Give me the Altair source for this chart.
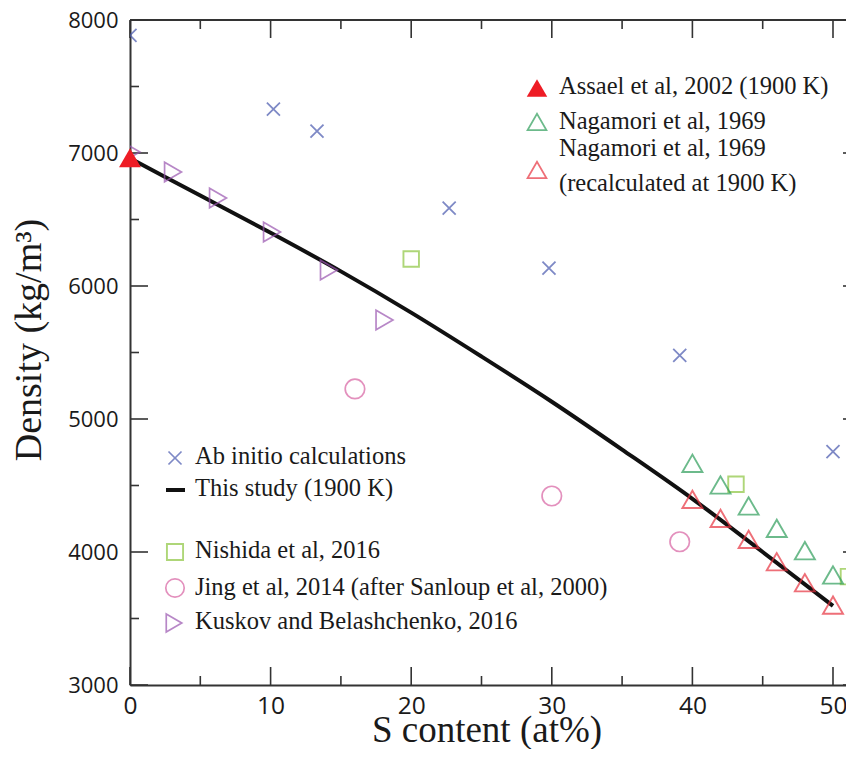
import altair as alt
import pandas as pd

# ---------------- data ----------------
ab_x = [0, 10.2, 13.3, 22.7, 29.8, 39.1, 50]
ab_y = [7885, 7330, 7165, 6585, 6135, 5478, 4755]

study_x = [0, 5, 10, 15, 20, 25, 30, 35, 40, 45, 50]
study_y = [6960, 6680, 6400, 6110, 5800, 5470, 5130, 4770, 4400, 4000, 3595]

assael_x = [0]
assael_y = [6965]

nag_x = [40, 42, 44, 46, 48, 50]
nag_y = [4667, 4504, 4346, 4178, 4010, 3827]

nagr_x = [40, 42, 44, 46, 48, 50]
nagr_y = [4396, 4253, 4095, 3927, 3769, 3601]

nish_x = [20, 43.1, 51.1]
nish_y = [6203, 4509, 3815]

jing_x = [16, 30, 39.1]
jing_y = [5226, 4421, 4077]

kus_x = [0.1, 3.06, 6.26, 10.1, 14.15, 18.1]
kus_y = [7008, 6857, 6662, 6406, 6120, 5744]

x_major = [0, 10, 20, 30, 40, 50]
x_minor = [5, 15, 25, 35, 45]
y_major = [3000, 4000, 5000, 6000, 7000, 8000]
y_minor = [3500, 4500, 5500, 6500, 7500]

# ---------------- layout / style ----------------
W, H = 716, 665          # visible plot area (the figure is cut at the right)
WFULL = 731              # where the (cut-off) right frame would be
AX = "#333333"
TXT = "#1a1a1a"
SERIF = "Liberation Serif"
SANS = "Open Sans"

xs = alt.Scale(domain=[0, 50.925], nice=False, zero=False)
ys = alt.Scale(domain=[3000, 8000], nice=False, zero=False)

ax_x = alt.Axis(values=x_major, title=None, ticks=False, tickSize=0, grid=False,
                domain=True, domainColor=AX, domainWidth=2,
                labelFont=SANS, labelFontSize=24.5, labelColor=TXT,
                labelPadding=9, labelFlush=False)
ax_y = alt.Axis(values=y_major, title=None, ticks=False, tickSize=0, grid=False,
                domain=True, domainColor=AX, domainWidth=2, format="d",
                labelFont=SANS, labelFontSize=22, labelColor=TXT,
                labelPadding=12, labelFlush=False)


def X(name="x"):
    return alt.X(f"{name}:Q", scale=xs, axis=ax_x)


def Y(name="y"):
    return alt.Y(f"{name}:Q", scale=ys, axis=ax_y)


def df(xv, yv):
    return pd.DataFrame({"x": xv, "y": yv})


one = pd.DataFrame({"a": [0]})

layers = []

# frame: top spine
layers.append(alt.Chart(one).mark_rule(color=AX, strokeWidth=2).encode(
    x=alt.value(0), x2=alt.value(W), y=alt.value(0)))

# inward ticks
for vals, L in ((x_major, 18), (x_minor, 9)):
    d = pd.DataFrame({"x": vals})
    layers.append(alt.Chart(d).mark_rule(color=AX, strokeWidth=1.6).encode(
        x=X(), y=alt.value(H), y2=alt.value(H - L)))
    layers.append(alt.Chart(d).mark_rule(color=AX, strokeWidth=1.6).encode(
        x=X(), y=alt.value(0), y2=alt.value(L)))
for vals, L in ((y_major, 18), (y_minor, 9)):
    d = pd.DataFrame({"y": vals})
    layers.append(alt.Chart(d).mark_rule(color=AX, strokeWidth=1.6).encode(
        y=Y(), x=alt.value(0), x2=alt.value(L)))
# right-frame major ticks (only their tips show at the cut edge)
layers.append(alt.Chart(pd.DataFrame({"y": y_major})).mark_rule(color=AX, strokeWidth=1.6).encode(
    y=Y(), x=alt.value(WFULL - 18), x2=alt.value(W)))

XPATH = "M-1,-1L1,1M1,-1L-1,1"

# this study line
layers.append(alt.Chart(df(study_x, study_y)).mark_line(
    color="#111111", strokeWidth=4, interpolate="monotone").encode(x=X(), y=Y()))

# data series
layers.append(alt.Chart(df(ab_x, ab_y)).mark_point(
    shape=XPATH, size=170, color="#4858ae", strokeWidth=1.8, filled=False, clip=True
).encode(x=X(), y=Y()))
layers.append(alt.Chart(df(kus_x, kus_y)).mark_point(
    shape="triangle-right", size=380, color="#9a55b0", strokeWidth=1.7, filled=False, clip=True
).encode(x=X(), y=Y()))
layers.append(alt.Chart(df(nish_x, nish_y)).mark_point(
    shape="square", size=240, color="#8dc63f", strokeWidth=1.9, filled=False, clip=True
).encode(x=X(), y=Y()))
layers.append(alt.Chart(df(jing_x, jing_y)).mark_point(
    shape="circle", size=380, color="#d862a2", strokeWidth=1.7, filled=False, clip=True
).encode(x=X(), y=Y()))
layers.append(alt.Chart(df(nag_x, nag_y)).mark_point(
    shape="triangle-up", size=400, color="#2e9e5b", strokeWidth=1.9, filled=False, clip=True
).encode(x=X(), y=Y()))
layers.append(alt.Chart(df(nagr_x, nagr_y)).mark_point(
    shape="triangle-up", size=400, color="#e8333f", strokeWidth=1.9, filled=False, clip=True
).encode(x=X(), y=Y()))
layers.append(alt.Chart(df(assael_x, assael_y)).mark_point(
    shape="triangle-up", size=480, color="#ee1c25", fill="#ee1c25", filled=True, opacity=1,
    clip=False
).encode(x=X(), y=Y()))

# ---------------- legends ----------------
LF = 24.5


def sym(px, py, **kw):
    return alt.Chart(one).mark_point(**kw).encode(x=alt.value(px), y=alt.value(py))


def txt(px, py, s, size=LF, **kw):
    return alt.Chart(one).mark_text(
        text=s, font=SERIF, fontSize=size, color=TXT, align="left",
        baseline="middle", **kw).encode(x=alt.value(px), y=alt.value(py))


# top-right legend
layers.append(sym(407, 68, shape="triangle-up", size=420, color="#ee1c25",
                  fill="#ee1c25", filled=True, opacity=1))
layers.append(txt(429, 67, "Assael et al, 2002 (1900 K)"))
layers.append(sym(407, 102, shape="triangle-up", size=360, color="#2e9e5b",
                  strokeWidth=1.7, filled=False))
layers.append(txt(429, 102, "Nagamori et al, 1969"))
layers.append(sym(407, 150, shape="triangle-up", size=360, color="#e8333f",
                  strokeWidth=1.7, filled=False))
layers.append(txt(429, 129, "Nagamori et al, 1969"))
layers.append(txt(429, 164, "(recalculated at 1900 K)"))

# lower-left legend
layers.append(sym(45, 438, shape=XPATH, size=170, color="#4858ae",
                  strokeWidth=1.7, filled=False))
layers.append(txt(65, 437, "Ab initio calculations"))
layers.append(alt.Chart(one).mark_rule(color="#111111", strokeWidth=4).encode(
    x=alt.value(36), x2=alt.value(55), y=alt.value(470)))
layers.append(txt(65, 469, "This study (1900 K)"))
layers.append(sym(45, 532, shape="square", size=260, color="#8dc63f",
                  strokeWidth=1.9, filled=False))
layers.append(txt(65, 531, "Nishida et al, 2016"))
layers.append(sym(45, 568, shape="circle", size=340, color="#d862a2",
                  strokeWidth=1.7, filled=False))
layers.append(txt(65, 568, "Jing et al, 2014 (after Sanloup et al, 2000)"))
layers.append(sym(44, 603, shape="triangle-right", size=320, color="#9a55b0",
                  strokeWidth=1.7, filled=False))
layers.append(txt(65, 602, "Kuskov and Belashchenko, 2016"))

# axis titles
layers.append(alt.Chart(one).mark_text(
    text="S content (at%)", font=SERIF, fontSize=37, color=TXT,
    align="center", baseline="alphabetic").encode(x=alt.value(357), y=alt.value(722)))
layers.append(alt.Chart(one).mark_text(
    text="Density (kg/m³)", font=SERIF, fontSize=38, color=TXT,
    align="center", baseline="middle", angle=270).encode(x=alt.value(-100), y=alt.value(320)))

chart = alt.layer(*layers).properties(
    width=W, height=H,
    padding={"left": 122, "top": 12, "right": 0, "bottom": 64},
    autosize=alt.AutoSizeParams(type="none"),
    background="white",
).configure_view(stroke=None)

chart.save("out.html", embed_options={"renderer": "svg", "actions": False})
